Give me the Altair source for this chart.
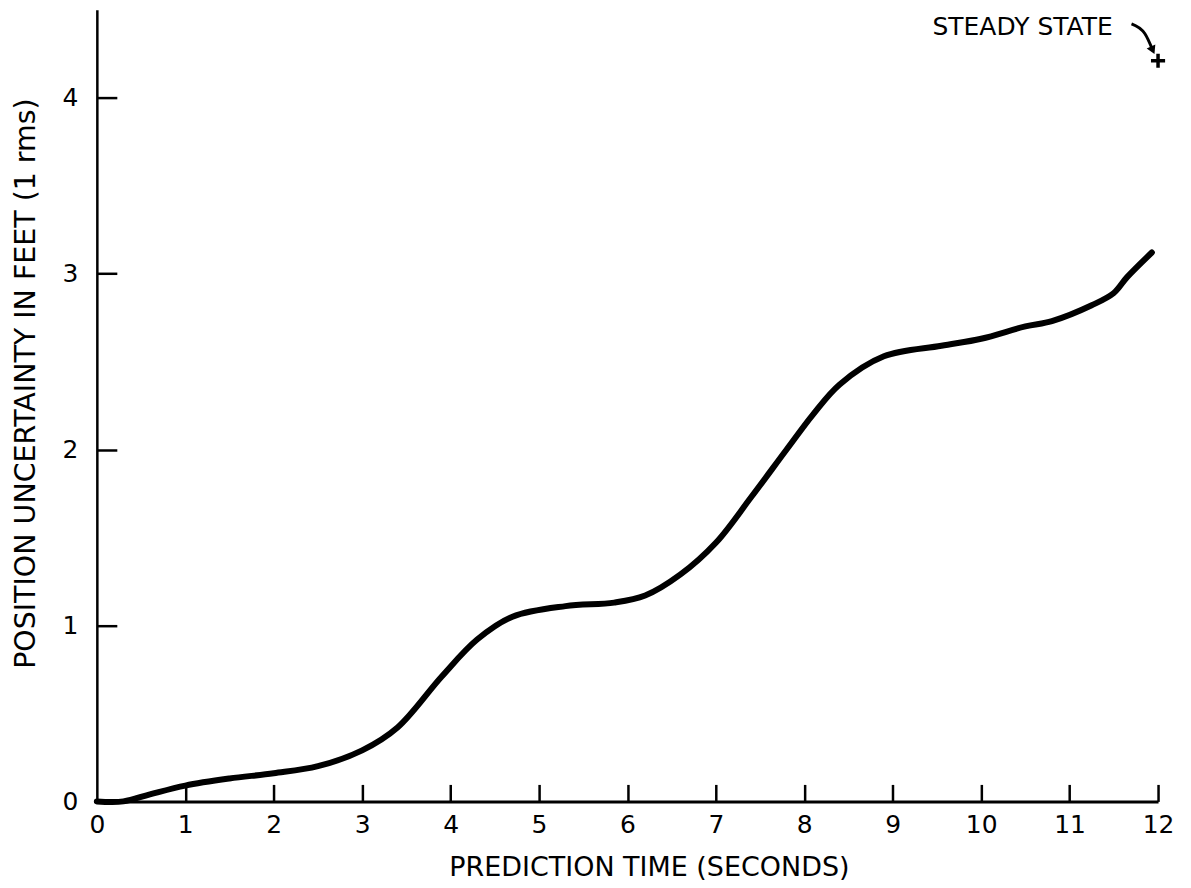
import altair as alt
import pandas as pd

# Curve values
time_s = [0, 0.3, 0.6, 1.0, 1.5, 2.0, 2.5, 3.0, 3.4, 3.9, 4.3, 4.7, 5.3, 5.85,
          6.2, 6.6, 7.0, 7.4, 7.8, 8.1, 8.4, 8.9, 9.55, 10.0, 10.5, 10.8, 11.25,
          11.5, 11.65, 11.93]
uncert = [0, 0.0, 0.04, 0.09, 0.13, 0.16, 0.2, 0.29, 0.42, 0.71, 0.92, 1.05,
          1.11, 1.13, 1.17, 1.29, 1.47, 1.73, 2.0, 2.2, 2.37, 2.53, 2.59, 2.63,
          2.70, 2.73, 2.82, 2.89, 2.98, 3.12]

x_ticks = [0, 1, 2, 3, 4, 5, 6, 7, 8, 9, 10, 11, 12]
y_ticks = [0, 1, 2, 3, 4]

steady_x = [12.0]
steady_y = [4.21]
label_text = ["STEADY STATE"]
label_x = [9.45]
label_y = [4.40]
arrow_x = [11.70, 11.85, 11.94]
arrow_y = [4.42, 4.365, 4.27]

FONT = "DejaVu Sans"
W, H = 1063, 793

xscale = alt.Scale(domain=[0, 12], nice=False, zero=False)
yscale = alt.Scale(domain=[0, 4.5], nice=False)

xaxis = alt.Axis(values=x_ticks, format="d", ticks=False, grid=False,
                 domainColor="black", domainWidth=3, labelFontSize=25,
                 labelFont=FONT, labelColor="black", labelPadding=11,
                 labelFlush=False,
                 title="PREDICTION TIME (SECONDS)", titleFont=FONT,
                 titleFontSize=27, titleFontWeight="normal", titleColor="black",
                 titlePadding=17, titleX=553, titleAlign="center")
yaxis = alt.Axis(values=y_ticks, format="d", ticks=False, grid=False,
                 domainColor="black", domainWidth=2.5, labelFontSize=25,
                 labelFont=FONT, labelColor="black", labelPadding=19,
                 labelFlush=False,
                 title="POSITION UNCERTAINTY IN FEET (1 rms)", titleFont=FONT,
                 titleFontSize=28.5, titleFontWeight="normal", titleColor="black",
                 titlePadding=22, titleY=374, titleAlign="center")

# Inward-pointing ticks: a top axis shifted down onto the bottom line and a
# right axis shifted left onto the left line, so their outward ticks point in.
xtick_axis = alt.Axis(orient="top", offset=-H, values=x_ticks[1:], labels=False,
                      domain=False, ticks=True, tickSize=17, tickWidth=2.5,
                      tickColor="black", grid=False, title=None)
ytick_axis = alt.Axis(orient="right", offset=-W, values=y_ticks[1:], labels=False,
                      domain=False, ticks=True, tickSize=20, tickWidth=2.5,
                      tickColor="black", grid=False, title=None)

curve = alt.Chart(pd.DataFrame({"t": time_s, "u": uncert})).mark_line(
    color="black", strokeWidth=6, interpolate="catmull-rom", strokeCap="round"
).encode(x=alt.X("t:Q", scale=xscale, axis=xaxis),
         y=alt.Y("u:Q", scale=yscale, axis=yaxis))

xt = alt.Chart(pd.DataFrame({"tk": [float(v) for v in x_ticks[1:]]})).mark_point(
    opacity=0
).encode(x=alt.X("tk:Q", scale=xscale, axis=xtick_axis), y=alt.value(H))

yt = alt.Chart(pd.DataFrame({"tv": [float(v) for v in y_ticks[1:]]})).mark_point(
    opacity=0
).encode(y=alt.Y("tv:Q", scale=yscale, axis=ytick_axis), x=alt.value(0))

plus = alt.Chart(pd.DataFrame({"t": steady_x, "u": steady_y})).mark_point(
    shape="M-1,0L1,0M0,-1L0,1", color="black", strokeWidth=3.5, size=200,
    filled=False, opacity=1
).encode(x=alt.X("t:Q", scale=xscale, axis=None),
         y=alt.Y("u:Q", scale=yscale, axis=None))

label = alt.Chart(pd.DataFrame({"t": label_x, "u": label_y, "s": label_text})).mark_text(
    font=FONT, fontSize=25, color="black", align="left", baseline="middle"
).encode(x=alt.X("t:Q", scale=xscale, axis=None),
         y=alt.Y("u:Q", scale=yscale, axis=None), text="s:N")

arrow_df = pd.DataFrame({"t": arrow_x, "u": arrow_y, "o": [0, 1, 2]})
arrow = alt.Chart(arrow_df).mark_line(
    color="black", strokeWidth=3, interpolate="monotone"
).encode(x=alt.X("t:Q", scale=xscale, axis=None),
         y=alt.Y("u:Q", scale=yscale, axis=None), order="o:Q")
head = alt.Chart(pd.DataFrame({"t": arrow_x[-1:], "u": arrow_y[-1:]})).mark_point(
    shape="triangle-down", filled=True, color="black", size=90, angle=335, opacity=1
).encode(x=alt.X("t:Q", scale=xscale, axis=None),
         y=alt.Y("u:Q", scale=yscale, axis=None))

chart = alt.layer(curve, xt, yt, plus, label, arrow, head).resolve_axis(
    x="independent", y="independent"
).properties(
    width=W, height=H,
    autosize=alt.AutoSizeParams(type="none"),
    padding={"left": 89, "top": 1, "right": 25, "bottom": 80},
).configure(background="white").configure_view(stroke=None)

chart.save("out.html", embed_options={"renderer": "svg", "actions": False})
